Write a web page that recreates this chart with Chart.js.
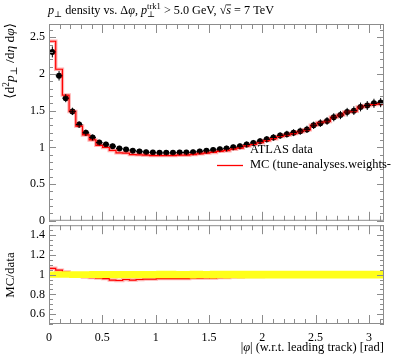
<!DOCTYPE html>
<html>
<head>
<meta charset="utf-8">
<script src="https://cdn.jsdelivr.net/npm/chart.js@4.4.1/dist/chart.umd.min.js"></script>
<style>
  html, body { margin: 0; padding: 0; background: #fff; }
  #wrap { position: relative; width: 397px; height: 358px; }
  canvas { position: absolute; left: 0; }
</style>
</head>
<body>
<div id="wrap">
  <canvas id="mainChart" width="397" height="232" style="top:0"></canvas>
  <canvas id="ratioChart" width="397" height="144" style="top:214px"></canvas>
</div>
<script>
// 50 bins in |phi| from 0 to pi
const nBins = 50;
const dataVals = [2.30, 1.975, 1.67, 1.49, 1.31, 1.20, 1.135, 1.065, 1.04, 1.015,
  0.985, 0.97, 0.955, 0.945, 0.935, 0.93, 0.925, 0.925, 0.925, 0.93,
  0.93, 0.935, 0.945, 0.955, 0.965, 0.975, 0.985, 1.0, 1.015, 1.04,
  1.06, 1.085, 1.11, 1.135, 1.16, 1.18, 1.20, 1.22, 1.245, 1.30,
  1.33, 1.36, 1.41, 1.44, 1.48, 1.50, 1.55, 1.57, 1.60, 1.61];
const dataErr = [0.075, 0.065, 0.055, 0.05, 0.045, 0.042, 0.04, 0.038, 0.037, 0.037,
  0.036, 0.036, 0.036, 0.035, 0.035, 0.035, 0.035, 0.035, 0.035, 0.035,
  0.035, 0.036, 0.036, 0.036, 0.037, 0.037, 0.038, 0.038, 0.039, 0.04,
  0.041, 0.042, 0.043, 0.044, 0.045, 0.046, 0.047, 0.048, 0.049, 0.05,
  0.052, 0.053, 0.055, 0.056, 0.058, 0.059, 0.06, 0.061, 0.062, 0.063];
const mcVals = [2.445, 2.064, 1.712, 1.49, 1.29, 1.17, 1.101, 1.028, 0.998, 0.959,
  0.926, 0.922, 0.902, 0.898, 0.893, 0.888, 0.888, 0.888, 0.888, 0.893,
  0.893, 0.902, 0.912, 0.922, 0.931, 0.946, 0.955, 0.975, 0.99, 1.019,
  1.039, 1.063, 1.093, 1.118, 1.148, 1.168, 1.188, 1.214, 1.239, 1.30,
  1.337, 1.353, 1.41, 1.44, 1.48, 1.493, 1.55, 1.57, 1.584, 1.594];
const xTicks = [0, 0.5, 1, 1.5, 2, 2.5, 3];
const mainYTicks = [0, 0.5, 1, 1.5, 2, 2.5];
const ratioYTicks = [0.6, 0.8, 1, 1.2, 1.4];

const xMax = Math.PI;
const binW = xMax / nBins;
const edges = Array.from({length: nBins + 1}, (_, i) => i * binW);
const centres = dataVals.map((_, i) => (i + 0.5) * binW);

function stepPoints(vals) {
  const pts = vals.map((v, i) => ({x: edges[i], y: v}));
  pts.push({x: edges[nBins], y: vals[nBins - 1]});
  return pts;
}

const SERIF = "'Liberation Serif', 'DejaVu Serif', serif";
const tickFont = {family: SERIF, size: 12};
const FRAME = '#8c8c8c';

// rich text: parts {t, i: italic, pos: 'sup'|'sub', hold: stack next part on same x, over: overline}
function drawRich(ctx, parts, x, y, size, align) {
  const fontFor = p => (p.i ? 'italic ' : '') + (p.pos ? size * 0.7 : size) + 'px ' + SERIF;
  let w = 0, held = 0;
  const widths = parts.map(p => { ctx.font = fontFor(p); return ctx.measureText(p.t).width; });
  parts.forEach((p, k) => {
    if (p.hold) { held = widths[k]; return; }
    w += Math.max(widths[k], held); held = 0;
  });
  let cx = align === 'right' ? x - w : align === 'center' ? x - w / 2 : x;
  held = 0;
  ctx.textBaseline = 'alphabetic';
  ctx.textAlign = 'left';
  parts.forEach((p, k) => {
    ctx.font = fontFor(p);
    const dy = p.pos === 'sup' ? -size * 0.38 : p.pos === 'sub' ? size * 0.25 : 0;
    ctx.fillText(p.t, cx, y + dy);
    if (p.over) {
      ctx.fillRect(cx, y - size * 0.78, widths[k], 0.8);
    }
    if (p.hold) { held = widths[k]; return; }
    cx += Math.max(widths[k], held); held = 0;
  });
}

// frame and inward ticks on all four sides
function frameTicks(yMinor, yMajor) {
  return {
    id: 'frameTicks',
    afterDatasetsDraw(chart) {
      const {ctx, chartArea: a, scales: {x, y}} = chart;
      ctx.save();
      ctx.strokeStyle = FRAME;
      ctx.lineWidth = 1;
      ctx.strokeRect(a.left + 0.5, a.top + 0.5, a.right - a.left - 1, a.bottom - a.top - 1);
      ctx.beginPath();
      for (let k = 0; k * 0.1 <= x.max + 1e-9; k++) {
        const px = Math.round(x.getPixelForValue(k * 0.1)) + 0.5;
        const len = k % 5 === 0 ? 9 : 5;
        ctx.moveTo(px, a.bottom); ctx.lineTo(px, a.bottom - len);
        ctx.moveTo(px, a.top); ctx.lineTo(px, a.top + len);
      }
      const n0 = Math.ceil(y.min / yMinor - 1e-9);
      for (let k = n0; k * yMinor <= y.max + 1e-9; k++) {
        const v = k * yMinor;
        const py = Math.round(y.getPixelForValue(v)) + 0.5;
        const major = Math.abs(v / yMajor - Math.round(v / yMajor)) < 1e-6;
        const len = major ? 7 : 4;
        ctx.moveTo(a.left, py); ctx.lineTo(a.left + len, py);
        ctx.moveTo(a.right, py); ctx.lineTo(a.right - len, py);
      }
      ctx.stroke();
      ctx.restore();
    }
  };
}

const errorBars = {
  id: 'errorBars',
  afterDatasetsDraw(chart) {
    const {ctx, scales: {x, y}} = chart;
    ctx.save();
    ctx.strokeStyle = '#000';
    ctx.lineWidth = 1;
    ctx.beginPath();
    dataVals.forEach((v, i) => {
      const px = x.getPixelForValue(centres[i]);
      const py = y.getPixelForValue(v);
      ctx.moveTo(px, y.getPixelForValue(v - dataErr[i]));
      ctx.lineTo(px, y.getPixelForValue(v + dataErr[i]));
      ctx.moveTo(x.getPixelForValue(edges[i]), py);
      ctx.lineTo(x.getPixelForValue(edges[i + 1]), py);
    });
    ctx.stroke();
    ctx.restore();
  }
};

const mainText = {
  id: 'mainText',
  afterDraw(chart) {
    const ctx = chart.ctx;
    ctx.save();
    ctx.fillStyle = '#000';
    drawRich(ctx, [
      {t: 'p', i: true}, {t: '\u22a5', pos: 'sub'}, {t: ' density vs. \u0394'}, {t: '\u03c6', i: true},
      {t: ', '}, {t: 'p', i: true}, {t: 'trk1', pos: 'sup', hold: true}, {t: '\u22a5', pos: 'sub'},
      {t: ' > 5.0 GeV, \u221a'}, {t: 's', i: true, over: true}, {t: ' = 7 TeV'}
    ], 48, 14, 12.2, 'left');

    ctx.save();
    ctx.translate(14, 23);
    ctx.rotate(-Math.PI / 2);
    drawRich(ctx, [
      {t: '\u27e8d'}, {t: '2', pos: 'sup'}, {t: 'p', i: true}, {t: '\u22a5', pos: 'sub'},
      {t: ' /d'}, {t: '\u03b7', i: true}, {t: ' d'}, {t: '\u03c6', i: true}, {t: '\u27e9'}
    ], 0, 0, 13.5, 'right');
    ctx.restore();

    // legend
    ctx.font = '12.5px ' + SERIF;
    ctx.textBaseline = 'middle';
    ctx.textAlign = 'left';
    ctx.fillText('ATLAS data', 250, 150);
    ctx.fillText('MC (tune-analyses.weights-', 250, 165);
    ctx.strokeStyle = '#ff0000';
    ctx.lineWidth = 1.3;
    ctx.beginPath();
    ctx.moveTo(217, 165.5); ctx.lineTo(243, 165.5);
    ctx.stroke();
    ctx.restore();
  }
};

const ratioText = {
  id: 'ratioText',
  afterDraw(chart) {
    const ctx = chart.ctx;
    const top = 214;
    ctx.save();
    ctx.fillStyle = '#000';
    ctx.save();
    ctx.translate(14, 275 - top);
    ctx.rotate(-Math.PI / 2);
    drawRich(ctx, [{t: 'MC/data'}], 0, 0, 13, 'center');
    ctx.restore();
    drawRich(ctx, [
      {t: '|'}, {t: '\u03c6', i: true}, {t: '| (w.r.t. leading track) [rad]'}
    ], 384, 351 - top, 12.5, 'right');
    ctx.restore();
  }
};

const mcRatio = mcVals.map((v, i) => v / dataVals[i]);
const bandHi = dataVals.map((v, i) => 1 + dataErr[i] / v);
const bandLo = dataVals.map((v, i) => 1 - dataErr[i] / v);
const unity = dataVals.map((v) => v / v);

const xScale = (showTicks, height) => ({
  type: 'linear', min: 0, max: xMax,
  grid: {display: false, drawTicks: false}, border: {display: false},
  afterBuildTicks: s => { s.ticks = xTicks.map(v => ({value: v})); },
  ticks: {display: showTicks, font: tickFont, color: '#000', padding: 7, maxRotation: 0, autoSkip: false,
    callback: v => String(v)},
  afterFit: s => { s.height = height; }
});

const yScale = (min, max, list) => ({
  type: 'linear', min: min, max: max,
  grid: {display: false, drawTicks: false}, border: {display: false},
  afterBuildTicks: s => { s.ticks = list.map(v => ({value: v})); },
  ticks: {font: tickFont, color: '#000', padding: 4, callback: v => String(v)},
  afterFit: s => { s.width = 49; }
});

const common = {
  responsive: false, animation: false, devicePixelRatio: 1,
  plugins: {legend: {display: false}, tooltip: {enabled: false}}
};

new Chart(document.getElementById('mainChart'), {
  type: 'line',
  data: {
    datasets: [
      {data: stepPoints(mcVals), stepped: 'before', borderColor: 'rgba(255,0,0,0.3)', borderWidth: 3.5,
        pointRadius: 0, fill: false},
      {data: stepPoints(mcVals), stepped: 'before', borderColor: '#ff0000', borderWidth: 1.2,
        pointRadius: 0, fill: false},
      {data: dataVals.map((v, i) => ({x: centres[i], y: v})), showLine: false,
        pointRadius: 3, pointBackgroundColor: '#000', pointBorderColor: '#000', pointBorderWidth: 0}
    ]
  },
  options: Object.assign({}, common, {
    layout: {padding: {top: 24, right: 13, left: 0, bottom: 0}},
    scales: {x: xScale(false, 8), y: yScale(0, 2.68, mainYTicks)}
  }),
  plugins: [errorBars, frameTicks(0.1, 0.5), mainText]
});

new Chart(document.getElementById('ratioChart'), {
  type: 'line',
  data: {
    datasets: [
      {data: stepPoints(bandHi), stepped: 'before', borderColor: 'rgba(0,0,0,0)', borderWidth: 0,
        pointRadius: 0, fill: false},
      {data: stepPoints(bandLo), stepped: 'before', borderColor: 'rgba(0,0,0,0)', borderWidth: 0,
        pointRadius: 0, fill: '-1', backgroundColor: '#ffff1a'},
      {data: stepPoints(unity), stepped: 'before', borderColor: '#4d4d00', borderWidth: 1,
        pointRadius: 0, fill: false},
      {data: stepPoints(mcRatio), stepped: 'before', borderColor: 'rgba(255,0,0,0.3)', borderWidth: 3.5,
        pointRadius: 0, fill: false},
      {data: stepPoints(mcRatio), stepped: 'before', borderColor: '#ff0000', borderWidth: 1.2,
        pointRadius: 0, fill: false}
    ]
  },
  options: Object.assign({}, common, {
    layout: {padding: {top: 10, right: 13, left: 0, bottom: 0}},
    scales: {x: xScale(true, 34), y: yScale(0.5, 1.5, ratioYTicks)}
  }),
  plugins: [frameTicks(0.05, 0.2), ratioText]
});
</script>
</body>
</html>
